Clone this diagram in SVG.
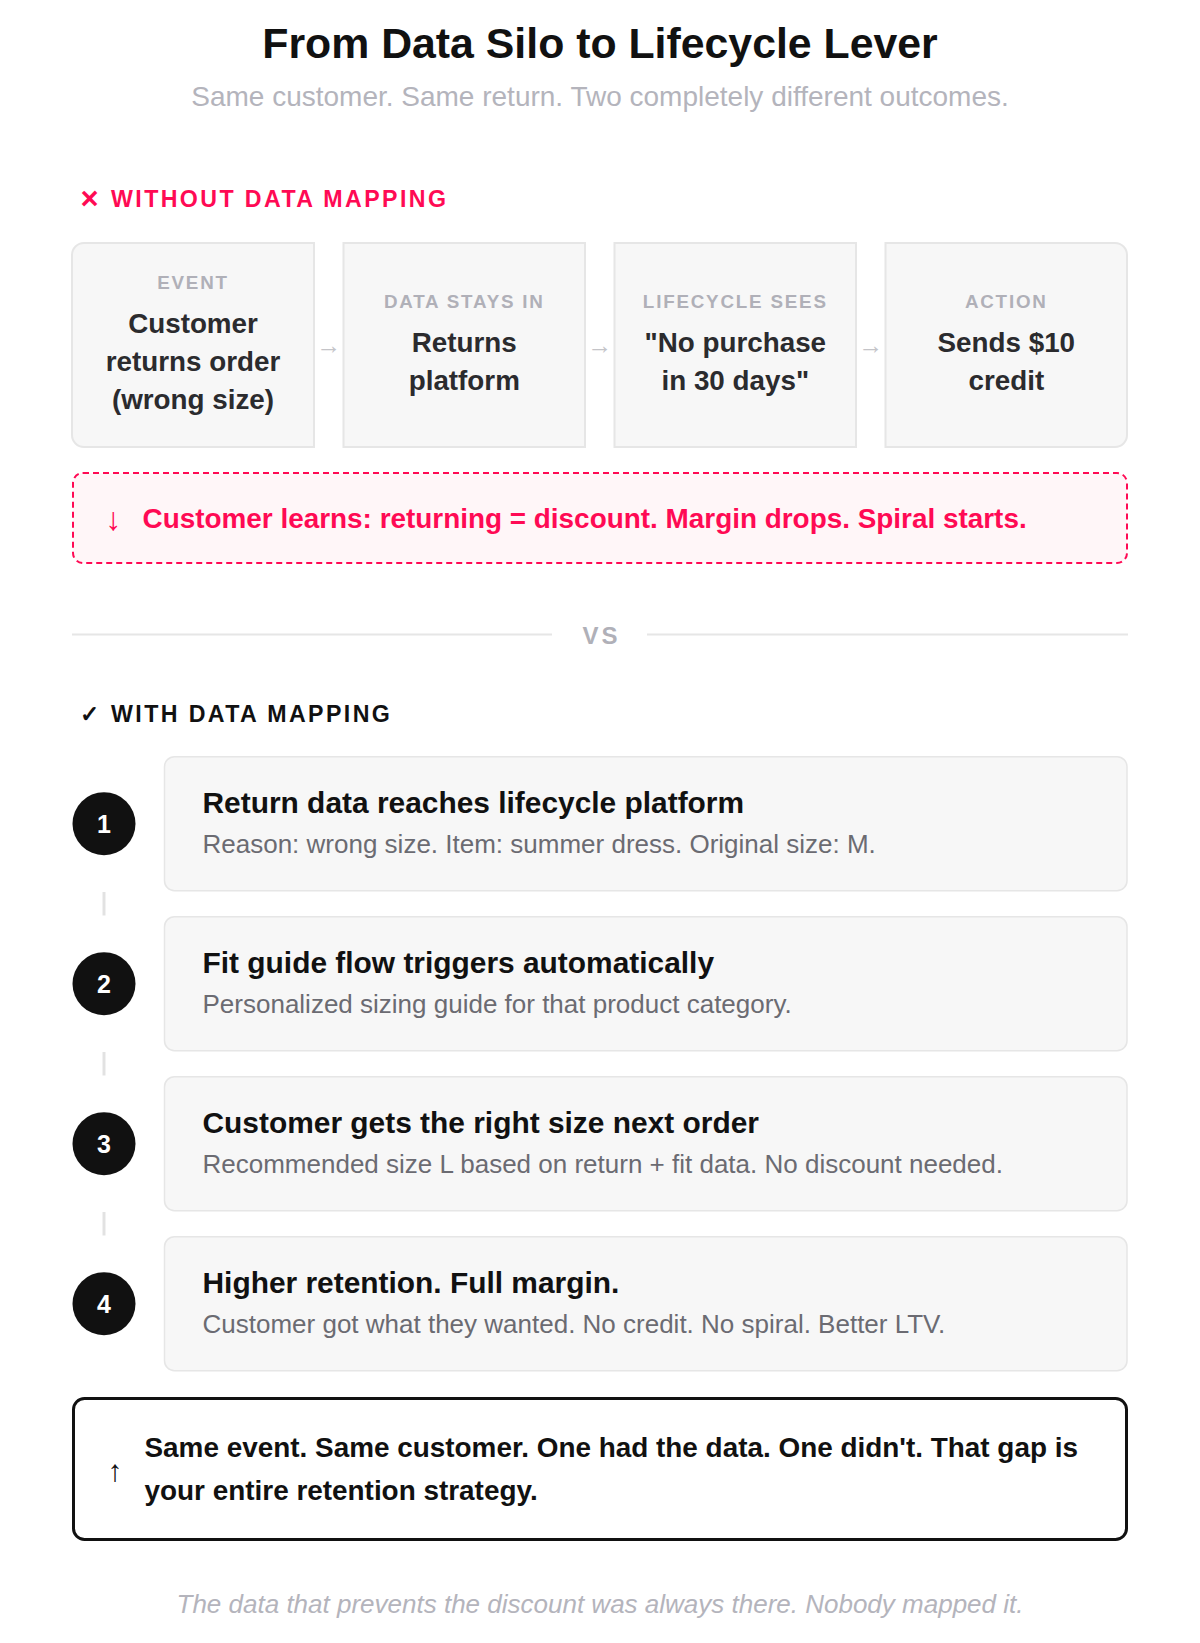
<svg xmlns="http://www.w3.org/2000/svg" width="1200" height="1643" viewBox="0 0 1200 1643">
<style>
text { font-family: "Liberation Sans", Arial, sans-serif; }
.title { font-size: 42.8px; font-weight: 700; fill: #111111; text-anchor: middle; }
.subtitle { font-size: 28px; fill: #b4b4bc; text-anchor: middle; }
.sec-bad { font-size: 23.2px; font-weight: 700; fill: #ff0a54; letter-spacing: 2.4px; }
.sec-good { font-size: 23.2px; font-weight: 700; fill: #111111; letter-spacing: 2.4px; }
.card { fill: #f7f7f7; stroke: #e6e6e6; stroke-width: 2; }
.lbl { font-size: 18.8px; font-weight: 700; fill: #b0b0b8; letter-spacing: 1.8px; text-anchor: middle; }
.main { font-size: 27.8px; font-weight: 700; fill: #2b2b2e; text-anchor: middle; }
.arrow { font-size: 25px; fill: #c4c4c8; text-anchor: middle; }
.warn { fill: #fff6f8; stroke: #ff0a54; stroke-width: 2; stroke-dasharray: 6 4; }
.warn-t { font-size: 27.9px; font-weight: 700; fill: #ff0a54; }
.vs { font-size: 24px; font-weight: 700; fill: #b0b0b8; letter-spacing: 3px; text-anchor: middle; }
.rule { stroke: #e6e6e6; stroke-width: 2; }
.step { fill: #f7f7f7; stroke: #e6e6e6; stroke-width: 1.5; }
.num { fill: #111111; }
.num-t { font-size: 25px; font-weight: 700; fill: #ffffff; text-anchor: middle; }
.st-t { font-size: 29.9px; font-weight: 700; fill: #111111; }
.st-s { font-size: 26px; fill: #6b6b72; }
.link { stroke: #e2e2e2; stroke-width: 3; }
.final { fill: #ffffff; stroke: #111111; stroke-width: 3; }
.final-t { font-size: 27.9px; font-weight: 700; fill: #111111; }
.foot { font-size: 26px; font-style: italic; fill: #b4b4bc; text-anchor: middle; }
</style>

<g id="header">
  <text class="title" x="600" y="58">From Data Silo to Lifecycle Lever</text>
  <text class="subtitle" x="600" y="106">Same customer. Same return. Two completely different outcomes.</text>
</g>

<g id="section-without">
  <text x="89.5" y="208.5" font-size="31" font-weight="700" fill="#ff0a54" text-anchor="middle">×</text>
  <text class="sec-bad" x="111" y="207">WITHOUT DATA MAPPING</text>
</g>

<g id="card-event">
  <path class="card" d="M84,243 H314 V447 H84 A12,12 0 0 1 72,435 V255 A12,12 0 0 1 84,243 Z"/>
  <text class="lbl" x="193" y="289">EVENT</text>
  <text class="main" x="193" y="333">Customer</text>
  <text class="main" x="193" y="371">returns order</text>
  <text class="main" x="193" y="408.5">(wrong size)</text>
</g>

<g id="card-data">
  <rect class="card" x="343.5" y="243" width="241.5" height="204"/>
  <text class="lbl" x="464.3" y="307.5">DATA STAYS IN</text>
  <text class="main" x="464.3" y="351.7">Returns</text>
  <text class="main" x="464.3" y="389.5">platform</text>
</g>

<g id="card-lifecycle">
  <rect class="card" x="614.5" y="243" width="241.5" height="204"/>
  <text class="lbl" x="735.3" y="307.5">LIFECYCLE SEES</text>
  <text class="main" x="735.3" y="351.7">"No purchase</text>
  <text class="main" x="735.3" y="389.5">in 30 days"</text>
</g>

<g id="card-action">
  <path class="card" d="M885.5,243 H1115 A12,12 0 0 1 1127,255 V435 A12,12 0 0 1 1115,447 H885.5 Z"/>
  <text class="lbl" x="1006.3" y="307.5">ACTION</text>
  <text class="main" x="1006.3" y="351.7">Sends $10</text>
  <text class="main" x="1006.3" y="389.5">credit</text>
</g>

<g id="connectors">
  <text class="arrow" x="328.8" y="353.5">→</text>
  <text class="arrow" x="599.8" y="353.5">→</text>
  <text class="arrow" x="870.8" y="353.5">→</text>
  <line class="link" x1="104" y1="892" x2="104" y2="915.5"/>
  <line class="link" x1="104" y1="1052" x2="104" y2="1075.5"/>
  <line class="link" x1="104" y1="1212" x2="104" y2="1235.5"/>
</g>

<g id="warning">
  <rect class="warn" x="73" y="473" width="1054" height="90" rx="10"/>
  <text x="113.5" y="530" font-size="32" fill="#ff0a54" text-anchor="middle">↓</text>
  <text class="warn-t" x="142.5" y="527.5">Customer learns: returning = discount. Margin drops. Spiral starts.</text>
</g>

<g id="divider">
  <line class="rule" x1="72" y1="634.5" x2="552" y2="634.5"/>
  <line class="rule" x1="647" y1="634.5" x2="1128" y2="634.5"/>
  <text class="vs" x="601.5" y="644">VS</text>
</g>

<g id="section-with">
  <text x="89" y="721.5" font-size="23" font-weight="700" fill="#111111" text-anchor="middle">✓</text>
  <text class="sec-good" x="111" y="721.5">WITH DATA MAPPING</text>
</g>

<g id="step-1">
  <rect class="step" x="164.5" y="756.7" width="962.5" height="134" rx="10"/>
  <circle class="num" cx="104" cy="823.7" r="31.5"/>
  <text class="num-t" x="104" y="832.5">1</text>
  <text class="st-t" x="202.5" y="812.7">Return data reaches lifecycle platform</text>
  <text class="st-s" x="202.5" y="852.7">Reason: wrong size. Item: summer dress. Original size: M.</text>
</g>

<g id="step-2">
  <rect class="step" x="164.5" y="916.7" width="962.5" height="134" rx="10"/>
  <circle class="num" cx="104" cy="983.7" r="31.5"/>
  <text class="num-t" x="104" y="992.5">2</text>
  <text class="st-t" x="202.5" y="972.7">Fit guide flow triggers automatically</text>
  <text class="st-s" x="202.5" y="1012.7">Personalized sizing guide for that product category.</text>
</g>

<g id="step-3">
  <rect class="step" x="164.5" y="1076.7" width="962.5" height="134" rx="10"/>
  <circle class="num" cx="104" cy="1143.7" r="31.5"/>
  <text class="num-t" x="104" y="1152.5">3</text>
  <text class="st-t" x="202.5" y="1132.7">Customer gets the right size next order</text>
  <text class="st-s" x="202.5" y="1172.7">Recommended size L based on return + fit data. No discount needed.</text>
</g>

<g id="step-4">
  <rect class="step" x="164.5" y="1236.7" width="962.5" height="134" rx="10"/>
  <circle class="num" cx="104" cy="1303.7" r="31.5"/>
  <text class="num-t" x="104" y="1312.5">4</text>
  <text class="st-t" x="202.5" y="1292.7">Higher retention. Full margin.</text>
  <text class="st-s" x="202.5" y="1332.7">Customer got what they wanted. No credit. No spiral. Better LTV.</text>
</g>

<g id="conclusion">
  <rect class="final" x="73.5" y="1398.5" width="1053" height="141" rx="11"/>
  <text x="115" y="1481" font-size="30" fill="#111111" text-anchor="middle">↑</text>
  <text class="final-t" x="144.5" y="1456.7">Same event. Same customer. One had the data. One didn't. That gap is</text>
  <text class="final-t" x="144.5" y="1500">your entire retention strategy.</text>
</g>

<g id="footer">
  <text class="foot" x="600" y="1613">The data that prevents the discount was always there. Nobody mapped it.</text>
</g>
</svg>
